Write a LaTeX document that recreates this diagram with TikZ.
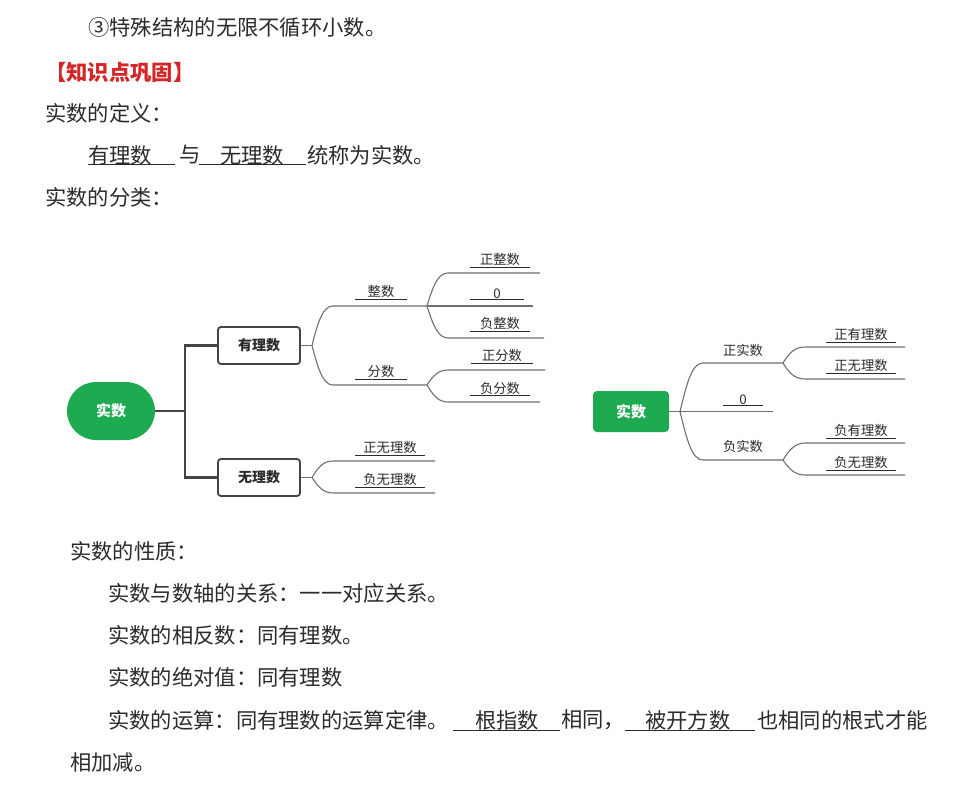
\documentclass[tikz,border=0pt]{standalone}
\usepackage{fontspec}
\newfontfamily\cjk{Noto Sans CJK SC}
\definecolor{mmgreen}{HTML}{1DAA50}
\definecolor{hdred}{HTML}{D42626}
\definecolor{txt}{HTML}{2B2B2B}
\definecolor{brc}{HTML}{707070}
\definecolor{thk}{HTML}{444444}
\tikzset{
  body/.style={font=\cjk\fontsize{21.3}{21.3}\selectfont, text=txt, inner sep=0pt, anchor=west},
  lab/.style={font=\cjk\fontsize{13.3}{13.3}\selectfont, text=txt, inner sep=1pt, anchor=south},
  ul/.style={draw=txt, line width=0.8pt},
  bul/.style={draw=txt, line width=1pt},
  brl/.style={draw=brc, line width=1.1pt},
  trunk/.style={draw=thk, line width=2.6pt},
  box/.style={draw=thk, line width=1.8pt, rounded corners=3pt, minimum width=82pt, minimum height=37pt,
    font=\cjk\bfseries\fontsize{14}{14}\selectfont, text=txt, fill=white},
  root/.style={fill=mmgreen, text=white, font=\cjk\bfseries\fontsize{15}{15}\selectfont}
}
\newcommand\blank[4]{\node[lab, minimum width=#3] (#1) at #2 {#4};
  \draw[ul] (#1.south west) -- (#1.south east);}
\begin{document}
\begin{tikzpicture}[x=1pt,y=-1pt]
\useasboundingbox (0,0) rectangle (969,788);
\fill[white] (0,0) rectangle (969,788);

% ---------- text above ----------
\node[body] (l1) at (88,27) {③特殊结构的无限不循环小数。};
\node[body, text=hdred, font=\cjk\bfseries\fontsize{21.3}{21.3}\selectfont] (hd) at (45,72) {【知识点巩固】};
\node[body] (def) at (45,113) {实数的定义：};
\node[body] (w1) at (88,155) {有理数};
\node[body] (w2) at (179,155) {与};
\node[body] (w3) at (220,155) {无理数};
\node[body] (w4) at (307,155) {统称为实数。};
\coordinate (u1a) at (88,164.5); \coordinate (u1b) at (175,164.5);
\coordinate (u2a) at (199,164.5); \coordinate (u2b) at (306,164.5);
\draw[bul] (u1a) -- (u1b);
\draw[bul] (u2a) -- (u2b);
\node[body] (cls) at (45,197) {实数的分类：};

% ---------- diagram 1 ----------
\node[root, minimum width=88pt, minimum height=58pt, rounded corners=29pt] (r1) at (111,411) {实数};
\node[box] (q) at (259,345.5) {有理数};
\node[box] (irr) at (259,477.5) {无理数};
\coordinate (t1) at (185,411);
\draw[trunk] (r1.east) -- (t1);
\draw[trunk] (t1) |- (q.west);
\draw[trunk] (t1) |- (irr.west);

\coordinate (j1) at (312,345.5);
\coordinate (a1) at (333,306); \coordinate (a1e) at (427,306);
\coordinate (a2) at (333,385); \coordinate (a2e) at (427,385);
\draw[brl] (q.east) -- (j1);
\draw[brl] (j1) .. controls +(6,-24) and +(-10,0) .. (a1) -- (a1e);
\draw[brl] (j1) .. controls +(6,23) and +(-10,0) .. (a2) -- (a2e);

\coordinate (b1) at (448,273); \coordinate (b1e) at (540,273);
\coordinate (b2e) at (533,306);
\coordinate (b3) at (448,338); \coordinate (b3e) at (544,338);
\draw[brl] (a1e) .. controls +(6,-20) and +(-10,0) .. (b1) -- (b1e);
\draw[brl] (a1e) -- (b2e);
\draw[brl] (a1e) .. controls +(6,19) and +(-10,0) .. (b3) -- (b3e);

\coordinate (c1) at (448,370); \coordinate (c1e) at (545,370);
\coordinate (c2) at (448,402); \coordinate (c2e) at (540,402);
\draw[brl] (a2e) .. controls +(6,-9) and +(-10,0) .. (c1) -- (c1e);
\draw[brl] (a2e) .. controls +(6,10) and +(-10,0) .. (c2) -- (c2e);

\coordinate (j2) at (312,477.5);
\coordinate (d1) at (333,461); \coordinate (d1e) at (435,461);
\coordinate (d2) at (333,493); \coordinate (d2e) at (435,493);
\draw[brl] (irr.east) -- (j2);
\draw[brl] (j2) .. controls +(6,-10) and +(-10,0) .. (d1) -- (d1e);
\draw[brl] (j2) .. controls +(6,9) and +(-10,0) .. (d2) -- (d2e);

\blank{zs}{(381,299)}{52pt}{整数}
\blank{fs}{(381,379)}{52pt}{分数}
\blank{pz}{(500,267)}{60pt}{正整数}
\blank{zero1}{(497,299.5)}{53pt}{0}
\blank{nz}{(500,331)}{60pt}{负整数}
\blank{pf}{(502,363)}{62pt}{正分数}
\blank{nf}{(500,395.5)}{60pt}{负分数}
\blank{pi}{(390,455)}{70pt}{正无理数}
\blank{ni}{(390,487)}{70pt}{负无理数}

% ---------- diagram 2 ----------
\node[root, minimum width=76pt, minimum height=41pt, rounded corners=4pt] (r2) at (631,411.5) {实数};
\coordinate (j3) at (680,411.5);
\coordinate (e1) at (703,363); \coordinate (e1e) at (783,363);
\coordinate (e2e) at (773,411.5);
\coordinate (e3) at (703,460); \coordinate (e3e) at (783,460);
\draw[brl] (r2.east) -- (j3);
\draw[brl] (j3) .. controls +(7,-29) and +(-11,0) .. (e1) -- (e1e);
\draw[brl] (j3) -- (e2e);
\draw[brl] (j3) .. controls +(7,29) and +(-11,0) .. (e3) -- (e3e);

\coordinate (f1) at (805,347); \coordinate (f1e) at (905,347);
\coordinate (f2) at (805,379); \coordinate (f2e) at (905,379);
\draw[brl] (e1e) .. controls +(6,-10) and +(-10,0) .. (f1) -- (f1e);
\draw[brl] (e1e) .. controls +(6,10) and +(-10,0) .. (f2) -- (f2e);
\coordinate (g1) at (805,443); \coordinate (g1e) at (905,443);
\coordinate (g2) at (805,475); \coordinate (g2e) at (905,475);
\draw[brl] (e3e) .. controls +(6,-10) and +(-10,0) .. (g1) -- (g1e);
\draw[brl] (e3e) .. controls +(6,9) and +(-10,0) .. (g2) -- (g2e);

\node[lab] (psr) at (743,358) {正实数};
\node[lab] (nsr) at (743,454) {负实数};
\blank{zero2}{(743,405.5)}{40pt}{0}
\blank{pq}{(861,342)}{70pt}{正有理数}
\blank{pirr}{(861,373)}{70pt}{正无理数}
\blank{nq}{(861,438)}{70pt}{负有理数}
\blank{nirr}{(861,470)}{70pt}{负无理数}

% ---------- text below ----------
\node[body] (p0) at (70,551) {实数的性质：};
\node[body] (p1) at (108,593) {实数与数轴的关系：一一对应关系。};
\node[body] (p2) at (108,635) {实数的相反数：同有理数。};
\node[body] (p3) at (108,677) {实数的绝对值：同有理数};
\node[body] (p4a) at (108,720) {实数的运算：同有理数的运算定律。};
\node[body] (p4b) at (475,720) {根指数};
\node[body] (p4c) at (561,720) {相同，};
\node[body] (p4d) at (645,720) {被开方数};
\node[body] (p4e) at (757,720) {也相同的根式才能};
\coordinate (u3a) at (453,730); \coordinate (u3b) at (560,730);
\coordinate (u4a) at (625,730); \coordinate (u4b) at (755,730);
\draw[bul] (u3a) -- (u3b);
\draw[bul] (u4a) -- (u4b);
\node[body] (p5) at (70,762) {相加减。};
\end{tikzpicture}
\end{document}
